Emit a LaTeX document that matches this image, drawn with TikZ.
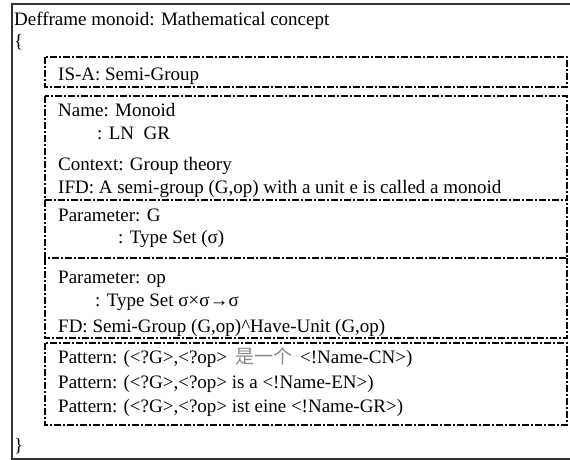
\documentclass[tikz,border=0pt]{standalone}
\usepackage{fontspec}
\setmainfont{Liberation Serif}
\newfontfamily\cjk{Noto Sans CJK SC}
\begin{document}
\begin{tikzpicture}[x=1pt,y=-1pt,
  frameline/.style={draw=black!80,line width=1.8pt},
  slot/.style={draw=black,line width=1.5pt,dash pattern=on 7pt off 2pt on 2pt off 2pt},
  txt/.style={anchor=base west,inner sep=0pt,font=\fontsize{19}{22}\selectfont}]
\useasboundingbox (0,0) rectangle (570,460);
% outer frame of the frame definition
\draw[frameline] (12,4) rectangle (580,459);
% slot boxes; the three middle slots share their borders
\draw[slot] (45,57) rectangle (567,87);
\draw[slot] (45,96) rectangle (567,200);
\draw[slot] (45,200) -- (45,258) -- (567,258) -- (567,200);
\draw[slot] (45,258) -- (45,338) -- (567,338) -- (567,258);
\draw[slot] (45,343) rectangle (567,425);
% header and braces
\node[txt] (title) at (14,26) {Defframe monoid: Mathematical concept};
\node[txt] (lbrace) at (14,48) {\{};
\node[txt] (rbrace) at (14,451) {\}};
% slot contents
\node[txt] (isa) at (58,81) {IS-A: Semi-Group};
\node[txt] (name) at (58,116) {Name: Monoid};
\node[txt] (lngr) at (97,139) {: LN\ \ GR};
\node[txt] (context) at (58,170) {Context: Group theory};
\node[txt] (ifd) at (58,193) {IFD: A semi-group (G,op) with a unit e is called a monoid};
\node[txt] (parg) at (58,221) {Parameter: G};
\node[txt] (typeg) at (118,243) {: Type Set (σ)};
\node[txt] (parop) at (58,283) {Parameter: op};
\node[txt] (typeop) at (95,306) {: Type Set σ×σ→σ};
\node[txt] (fd) at (58,332) {FD: Semi-Group (G,op)\textasciicircum Have-Unit (G,op)};
\node[txt] (pat1) at (58,363) {Pattern: (<?G>,<?op>\hspace{8pt}{\cjk\color{black!45}是一个}\hspace{8pt}<!Name-CN>)};
\node[txt] (pat2) at (58,388) {Pattern: (<?G>,<?op> is a <!Name-EN>)};
\node[txt] (pat3) at (58,412) {Pattern: (<?G>,<?op> ist eine <!Name-GR>)};
\end{tikzpicture}
\end{document}
